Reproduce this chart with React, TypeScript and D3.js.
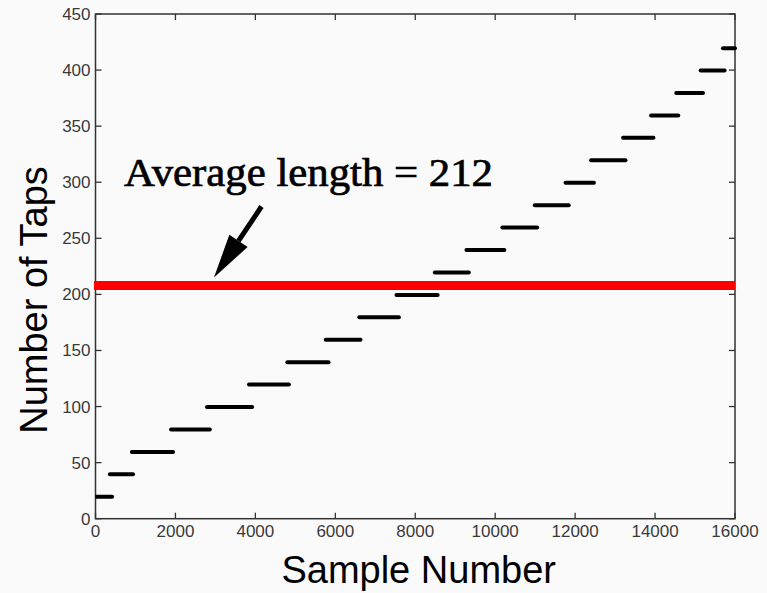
import React from "react";
import * as d3 from "d3";

const tapValues = [20, 40, 60, 80, 100, 120, 140, 160, 180, 200, 220, 240, 260, 280, 300, 320, 340, 360, 380, 400, 420];
const segStart = [0, 360, 910, 1890, 2790, 3840, 4800, 5760, 6600, 7530, 8490, 9280, 10180, 10990, 11760, 12400, 13200, 13900, 14530, 15140, 15700];
const segEnd = [416, 940, 1940, 2860, 3920, 4840, 5830, 6630, 7590, 8560, 9340, 10230, 11050, 11840, 12470, 13260, 13960, 14580, 15200, 15740, 16000];
const xTicks = [0, 2000, 4000, 6000, 8000, 10000, 12000, 14000, 16000];
const yTicks = [0, 50, 100, 150, 200, 250, 300, 350, 400, 450];
const averageLine = 208;
const annotationText = "Average length = 212";
const xLabel = "Sample Number";
const yLabel = "Number of Taps";

const W = 767;
const H = 593;
const left = 95.5;
const right = 735;
const top = 14;
const bottom = 518.7;

export default function App() {
  const x = d3.scaleLinear().domain([0, 16000]).range([left, right]);
  const y = d3.scaleLinear().domain([0, 450]).range([bottom, top]);
  const tickLen = 6;
  const axisColor = "#333";
  const segs = tapValues.map((v, i) => ({ v, s: segStart[i], e: segEnd[i] }));

  const tip = { x: 214, y: y(averageLine) - 8 };
  const tail = { x: 261.5, y: 206.5 };
  const ang = Math.atan2(tip.y - tail.y, tip.x - tail.x);
  const headLen = 44;
  const headHalf = 11;
  const bx = tip.x - headLen * Math.cos(ang);
  const by = tip.y - headLen * Math.sin(ang);
  const px = -Math.sin(ang) * headHalf;
  const py = Math.cos(ang) * headHalf;

  return (
    <svg width={W} height={H} style={{ position: "absolute", left: 0, top: 0, background: "#fafafa" }}>
      <rect x={0} y={0} width={W} height={H} fill="#fafafa" />
      <defs>
        <clipPath id="plotclip">
          <rect x={left} y={top} width={right - left + 2} height={bottom - top} />
        </clipPath>
      </defs>
      <rect x={left} y={top} width={right - left} height={bottom - top} fill="none" stroke={axisColor} strokeWidth={1.5} />
      {xTicks.map((t) => (
        <g key={"xt" + t}>
          <line x1={x(t)} x2={x(t)} y1={bottom} y2={bottom - tickLen} stroke={axisColor} strokeWidth={1.3} />
          <line x1={x(t)} x2={x(t)} y1={top} y2={top + tickLen} stroke={axisColor} strokeWidth={1.3} />
          <text x={x(t)} y={537} textAnchor="middle" fontFamily="Liberation Sans, Arial, sans-serif" fontSize={17} fill="#3a3a3a">
            {t}
          </text>
        </g>
      ))}
      {yTicks.map((t) => (
        <g key={"yt" + t}>
          <line x1={left} x2={left + tickLen} y1={y(t)} y2={y(t)} stroke={axisColor} strokeWidth={1.3} />
          <line x1={right} x2={right - tickLen} y1={y(t)} y2={y(t)} stroke={axisColor} strokeWidth={1.3} />
          <text x={90.5} y={y(t) + 6} textAnchor="end" fontFamily="Liberation Sans, Arial, sans-serif" fontSize={17} fill="#3a3a3a">
            {t}
          </text>
        </g>
      ))}
      <g clipPath="url(#plotclip)">
        {segs.map((d) => (
          <line
            key={"s" + d.v}
            x1={x(d.s)}
            x2={x(d.e)}
            y1={y(d.v) + 0.5}
            y2={y(d.v) + 0.5}
            stroke="#000"
            strokeWidth={4}
            strokeLinecap="round"
          />
        ))}
      </g>
      <line x1={left - 1.5} x2={right} y1={y(averageLine)} y2={y(averageLine)} stroke="#ff0000" strokeWidth={9} />
      <text
        x={124}
        y={186}
        fontFamily="Liberation Serif, Times New Roman, serif"
        fontSize={40}
        fill="#000"
        stroke="#000"
        strokeWidth={0.7}
        textLength={369}
        lengthAdjust="spacingAndGlyphs"
      >
        {annotationText}
      </text>
      <line x1={tail.x} y1={tail.y} x2={bx} y2={by} stroke="#000" strokeWidth={5} />
      <polygon points={`${tip.x},${tip.y} ${bx + px},${by + py} ${bx - px},${by - py}`} fill="#000" />
      <text x={418.7} y={583} textAnchor="middle" fontFamily="Liberation Sans, Arial, sans-serif" fontSize={38} fill="#000">
        {xLabel}
      </text>
      <text
        transform={`translate(47,300) rotate(-90)`}
        textAnchor="middle"
        fontFamily="Liberation Sans, Arial, sans-serif"
        fontSize={38}
        fill="#000"
      >
        {yLabel}
      </text>
    </svg>
  );
}
